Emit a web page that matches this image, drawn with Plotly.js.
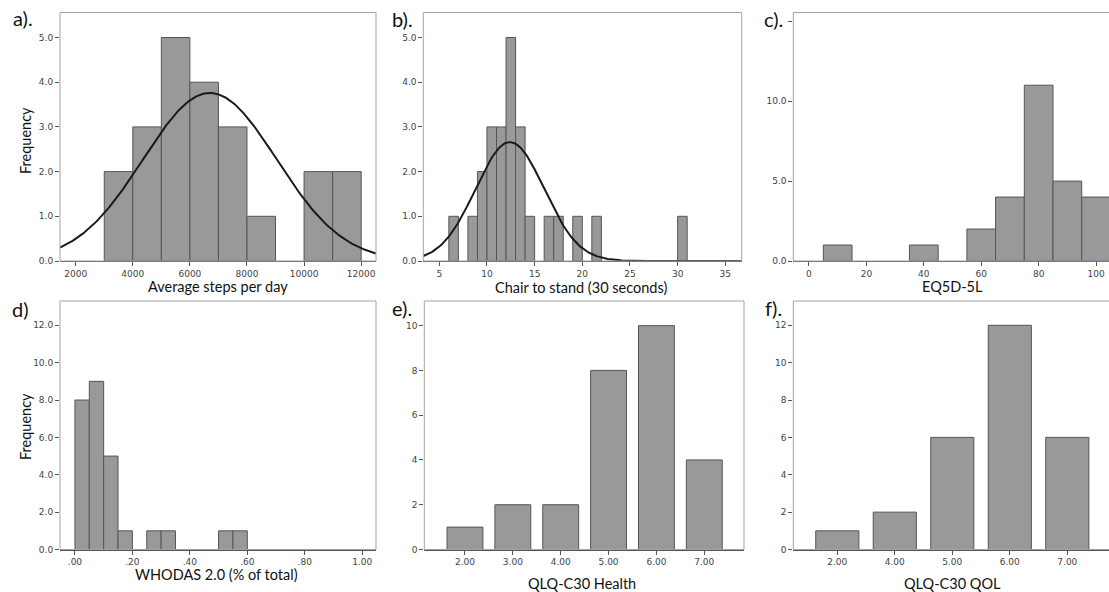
<!DOCTYPE html>
<html>
<head>
<meta charset="utf-8">
<script src="https://cdn.plot.ly/plotly-3.0.1.min.js"></script>
<style>
  html, body { margin: 0; padding: 0; background: #fff; }
  #chart { width: 1109px; height: 592px; }
</style>
</head>
<body>
<div id="chart"></div>
<script>
// a) Average steps per day: histogram bins (start of bin) and counts
const stepsBinStart = [3000, 4000, 5000, 6000, 7000, 8000, 10000, 11000];
const stepsCount = [2, 3, 5, 4, 3, 1, 2, 2];
const stepsBinWidth = 1000;
const stepsMean = 6700, stepsSD = 2335, stepsN = 22;

// b) Chair to stand (30 seconds)
const chairBinStart = [6, 8, 9, 10, 11, 12, 13, 14, 16, 17, 19, 21, 30];
const chairCount = [1, 1, 2, 3, 3, 5, 3, 1, 1, 1, 1, 1, 1];
const chairBinWidth = 1;
const chairMean = 12.4, chairSD = 3.6, chairN = 24;

// c) EQ5D-5L
const eqBinStart = [5, 35, 55, 65, 75, 85, 95];
const eqCount = [1, 1, 2, 4, 11, 5, 4];
const eqBinWidth = 10;

// d) WHODAS 2.0 (% of total)
const whoBinStart = [0, 0.05, 0.10, 0.15, 0.25, 0.30, 0.50, 0.55];
const whoCount = [8, 9, 5, 1, 1, 1, 1, 1];
const whoBinWidth = 0.05;

// e) QLQ-C30 Health
const healthCats = ["2.00", "3.00", "4.00", "5.00", "6.00", "7.00"];
const healthCount = [1, 2, 2, 8, 10, 4];

// f) QLQ-C30 QOL
const qolCats = ["2.00", "4.00", "5.00", "6.00", "7.00"];
const qolCount = [1, 2, 6, 12, 6];

// tick labels
const stepsTicks = [2000, 4000, 6000, 8000, 10000, 12000];
const chairTicks = [5, 10, 15, 20, 25, 30, 35];
const eqTicks = [0, 20, 40, 60, 80, 100];
const whoTicks = [0, 0.2, 0.4, 0.6, 0.8, 1.0];
const whoTickText = [".00", ".20", ".40", ".60", ".80", "1.00"];

const W = 1109, H = 592;
const px = v => v / W;
const py = v => 1 - v / H;

const barFill = '#999999';
const barEdge = '#555555';

function histTrace(starts, counts, width, xa, ya) {
  return {
    type: 'bar', x: starts, y: counts,
    width: starts.map(() => width), offset: 0,
    marker: { color: barFill, line: { color: barEdge, width: 1 } },
    xaxis: xa, yaxis: ya, hoverinfo: 'skip'
  };
}

function normalTrace(mean, sd, n, width, range, xa, ya) {
  const xs = [], ys = [];
  const k = n * width / (sd * Math.sqrt(2 * Math.PI));
  const steps = 300;
  for (let i = 0; i <= steps; i++) {
    const x = range[0] + (range[1] - range[0]) * i / steps;
    xs.push(x);
    ys.push(k * Math.exp(-0.5 * Math.pow((x - mean) / sd, 2)));
  }
  return {
    type: 'scatter', mode: 'lines', x: xs, y: ys,
    line: { color: '#1a1a1a', width: 2 },
    xaxis: xa, yaxis: ya, hoverinfo: 'skip'
  };
}

const rangeA = [1450, 12520];
const rangeB = [3.32, 36.72];

const data = [
  histTrace(stepsBinStart, stepsCount, stepsBinWidth, 'x', 'y'),
  normalTrace(stepsMean, stepsSD, stepsN, stepsBinWidth, rangeA, 'x', 'y'),
  histTrace(chairBinStart, chairCount, chairBinWidth, 'x2', 'y2'),
  normalTrace(chairMean, chairSD, chairN, chairBinWidth, rangeB, 'x2', 'y2'),
  histTrace(eqBinStart, eqCount, eqBinWidth, 'x3', 'y3'),
  histTrace(whoBinStart, whoCount, whoBinWidth, 'x4', 'y4'),
  {
    type: 'bar', x: healthCats, y: healthCount, width: 0.75,
    marker: { color: barFill, line: { color: barEdge, width: 1 } },
    xaxis: 'x5', yaxis: 'y5', hoverinfo: 'skip'
  },
  {
    type: 'bar', x: qolCats, y: qolCount, width: 0.75,
    marker: { color: barFill, line: { color: barEdge, width: 1 } },
    xaxis: 'x6', yaxis: 'y6', hoverinfo: 'skip'
  }
];

const tickFont = { family: 'DejaVu Sans', size: 9, color: '#444' };

function xAxis(domain, range, extra) {
  return Object.assign({
    domain: domain, range: range, anchor: 'free', position: 0,
    showgrid: false, zeroline: false,
    showline: true, linecolor: '#555', linewidth: 1,
    ticks: 'outside', ticklen: 4, tickcolor: '#555', tickwidth: 1,
    tickfont: tickFont, fixedrange: true
  }, extra);
}
function yAxis(domain, range, extra) {
  return Object.assign({
    domain: domain, range: range,
    showgrid: false, zeroline: false, showline: false,
    ticks: 'outside', ticklen: 4, tickcolor: '#555', tickwidth: 1,
    tickfont: tickFont, fixedrange: true
  }, extra);
}

const topRow = [py(261), py(12.5)];
const botRow = [py(549.5), py(301)];
const colA = [px(60), px(376)];
const colB = [px(423.3), px(741.7)];
const colC = [px(793.3), 1];
const colE = [px(424.3), px(744)];

const layout = {
  width: W, height: H,
  margin: { l: 0, r: 0, t: 0, b: 0 },
  paper_bgcolor: '#fff', plot_bgcolor: 'rgba(0,0,0,0)',
  showlegend: false,
  barmode: 'overlay',
  xaxis: xAxis(colA, rangeA, { anchor: 'y', tickvals: stepsTicks, ticktext: stepsTicks.map(String) }),
  yaxis: yAxis(topRow, [0, 5.56], { anchor: 'x', tickvals: [0, 1, 2, 3, 4, 5], ticktext: ['0.0', '1.0', '2.0', '3.0', '4.0', '5.0'] }),
  xaxis2: xAxis(colB, rangeB, { anchor: 'y2', tickvals: chairTicks, ticktext: chairTicks.map(String) }),
  yaxis2: yAxis(topRow, [0, 5.56], { anchor: 'x2', tickvals: [0, 1, 2, 3, 4, 5], ticktext: ['0.0', '1.0', '2.0', '3.0', '4.0', '5.0'] }),
  xaxis3: xAxis(colC, [-5.46, 104.5], { anchor: 'y3', tickvals: eqTicks, ticktext: eqTicks.map(String) }),
  yaxis3: yAxis(topRow, [0, 15.55], { anchor: 'x3', tickvals: [0, 5, 10, 15], ticktext: ['0.0', '5.0', '10.0', ''] }),
  xaxis4: xAxis(colA, [-0.052, 1.048], { anchor: 'y4', tickvals: whoTicks, ticktext: whoTickText }),
  yaxis4: yAxis(botRow, [0, 13.3], { anchor: 'x4', tickvals: [0, 2, 4, 6, 8, 10, 12], ticktext: ['0.0', '2.0', '4.0', '6.0', '8.0', '10.0', '12.0'] }),
  xaxis5: xAxis(colE, [-0.85, 5.83], { anchor: 'y5', type: 'category' }),
  yaxis5: yAxis(botRow, [0, 11.1], { anchor: 'x5', tickvals: [0, 2, 4, 6, 8, 10] }),
  xaxis6: xAxis(colC, [-0.765, 4.725], { anchor: 'y6', type: 'category' }),
  yaxis6: yAxis(botRow, [0, 13.3], { anchor: 'x6', tickvals: [0, 2, 4, 6, 8, 10, 12] }),
  shapes: [],
  annotations: []
};

// frames around each panel (right edge of the third column runs off the page)
const frames = [['x', 'y', 1], ['x2', 'y2', 1], ['x3', 'y3', 1.03], ['x4', 'y4', 1], ['x5', 'y5', 1], ['x6', 'y6', 1.03]];
frames.forEach(([xa, ya, x1]) => {
  layout.shapes.push({
    type: 'rect', xref: xa + ' domain', yref: ya + ' domain',
    x0: 0, x1: x1, y0: 0, y1: 1,
    line: { color: '#a3a3a3', width: 1 }, layer: 'above'
  });
});

const labelFont = { family: 'Lato', size: 20, color: '#111' };
const titleFont = { family: 'Lato', size: 14.5, color: '#111' };

function note(text, x, y, font, extra) {
  layout.annotations.push(Object.assign({
    text: text, xref: 'paper', yref: 'paper', x: px(x), y: py(y),
    xanchor: 'center', yanchor: 'middle', showarrow: false, font: font
  }, extra || {}));
}

// panel letters
note('a).', 23, 18, labelFont);
note('b).', 402, 19, labelFont);
note('c).', 773, 19, labelFont);
note('d)', 20, 309, labelFont);
note('e).', 402, 308, labelFont);
note('f).', 773, 308, labelFont);

// axis titles
note('Average steps per day', 218, 286, titleFont);
note('Chair to stand (30 seconds)', 581, 287, titleFont);
note('EQ5D-5L', 952, 286, titleFont);
note('WHODAS 2.0 (% of total)', 216, 574, titleFont);
note('QLQ-C30 Health', 582, 583, titleFont);
note('QLQ-C30 QOL', 952, 583, titleFont);
note('Frequency', 25, 141, titleFont, { textangle: -90 });
note('Frequency', 25, 427, titleFont, { textangle: -90 });

Plotly.newPlot('chart', data, layout, { displayModeBar: false, staticPlot: true });
</script>
</body>
</html>
